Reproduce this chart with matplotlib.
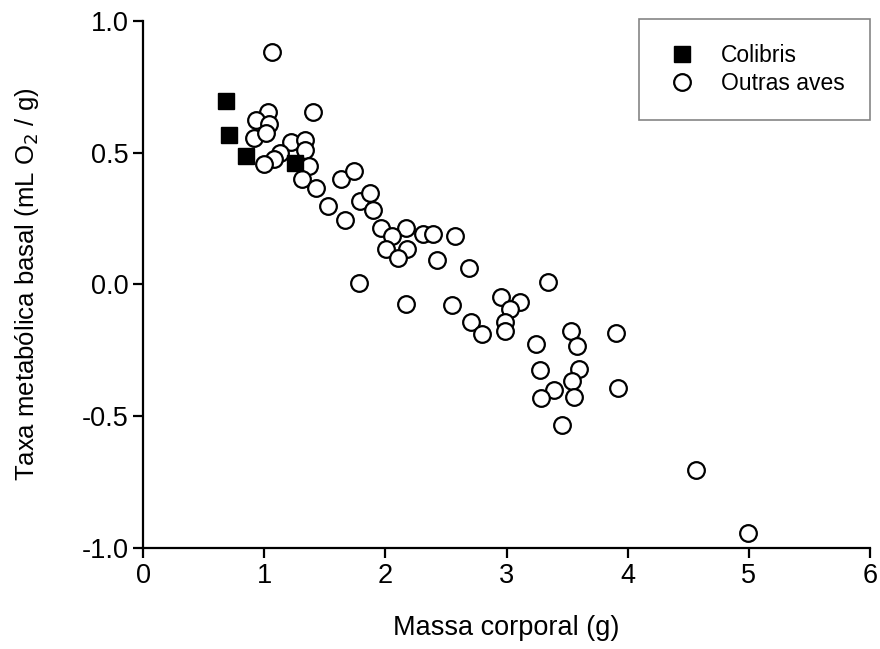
import matplotlib.pyplot as plt

plt.rcParams["font.family"] = ["Liberation Sans", "DejaVu Sans"]
plt.rcParams["axes.unicode_minus"] = False

# Colibris (hummingbirds)
colibri_x = [0.68, 0.71, 0.85, 1.25]
colibri_y = [0.697, 0.567, 0.486, 0.461]

# Outras aves (other birds)
aves_x = [1.065, 1.027, 1.404, 0.928, 1.040, 0.914, 1.011, 1.217, 1.338, 1.335,
          1.129, 1.079, 0.997, 1.371, 1.308, 1.426, 1.635, 1.740, 1.528, 1.668,
          1.789, 1.872, 1.894, 1.963, 2.169, 2.051, 2.004, 2.175, 2.106, 2.312,
          2.390, 2.574, 2.423, 2.690, 1.784, 2.169, 2.552, 3.342, 2.954, 3.111,
          3.024, 2.989, 2.987, 2.704, 2.794, 3.240, 3.529, 3.584, 3.901, 3.276,
          3.600, 3.543, 3.394, 3.282, 3.559, 3.922, 3.455, 4.561, 4.996]
aves_y = [0.883, 0.653, 0.653, 0.624, 0.607, 0.556, 0.575, 0.539, 0.549, 0.508,
          0.498, 0.477, 0.455, 0.451, 0.401, 0.367, 0.401, 0.430, 0.296, 0.243,
          0.318, 0.346, 0.283, 0.213, 0.215, 0.182, 0.135, 0.135, 0.101, 0.192,
          0.192, 0.182, 0.091, 0.063, 0.005, -0.073, -0.076, 0.011, -0.049, -0.067,
          -0.092, -0.144, -0.177, -0.144, -0.187, -0.226, -0.177, -0.234, -0.185, -0.326,
          -0.320, -0.364, -0.399, -0.431, -0.427, -0.393, -0.534, -0.702, -0.943]

xticks = [0, 1, 2, 3, 4, 5, 6]
yticks = [-1.0, -0.5, 0.0, 0.5, 1.0]

fig = plt.figure(figsize=(8.8, 6.49), dpi=100)
ax = fig.add_axes([0.1628, 0.1552, 0.8258, 0.8129])

ax.plot(aves_x, aves_y, "o", ms=12, mfc="white", mec="black", mew=1.6,
        linestyle="none", label="Outras aves", zorder=3)
ax.plot(colibri_x, colibri_y, "s", ms=12, mfc="black", mec="black",
        linestyle="none", label="Colibris", zorder=4)

ax.set_xlim(0, 6)
ax.set_ylim(-1, 1)
ax.set_xticks(xticks)
ax.set_yticks(yticks)
ax.set_yticklabels(["%.1f" % v for v in yticks])

for s in ["top", "right"]:
    ax.spines[s].set_visible(False)
for s in ["left", "bottom"]:
    ax.spines[s].set_linewidth(1.6)

ax.tick_params(direction="out", length=7.5, width=1.6, labelsize=19.5, pad=3)

ax.set_xlabel("Massa corporal (g)", fontsize=19.5, labelpad=19)
ax.set_ylabel("Taxa metabólica basal (mL O$_2$ / g)", fontsize=18.5, labelpad=29)

# legend: squares first, then circles
handles, labels = ax.get_legend_handles_labels()
leg = fig.legend(handles[::-1], labels[::-1], loc="upper right",
                 bbox_to_anchor=(0.9886, 0.9707), bbox_transform=fig.transFigure,
                 borderaxespad=0, fancybox=False, fontsize=16.5, frameon=True,
                 handletextpad=0.9, borderpad=1.1, labelspacing=0.2,
                 handlelength=1.6)
leg.get_frame().set_edgecolor("#666666")
leg.get_frame().set_linewidth(1.2)

plt.savefig("out.png", dpi=100)
plt.close()
